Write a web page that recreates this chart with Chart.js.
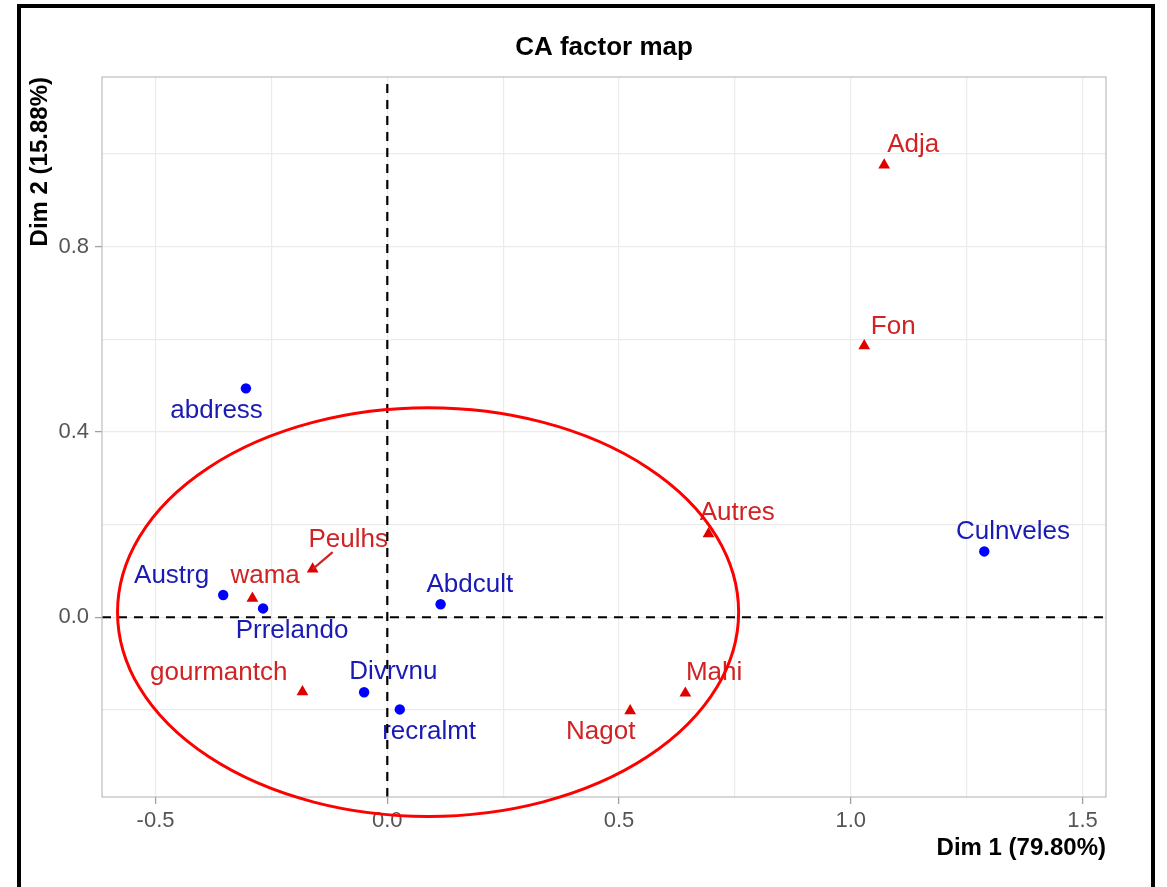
<!DOCTYPE html>
<html>
<head>
<meta charset="utf-8">
<title>CA factor map</title>
<script src="https://cdn.jsdelivr.net/npm/chart.js@4.4.1/dist/chart.umd.min.js"></script>
<style>
  html, body { margin: 0; padding: 0; background: #fff; overflow: hidden; }
  #wrap { position: relative; width: 1167px; height: 887px; }
  #c { position: absolute; left: 0; top: 0; }
  #frame { position: absolute; left: 17px; top: 4px; width: 1130px; height: 900px;
           border: 4px solid #000; pointer-events: none; }
</style>
</head>
<body>
<div id="wrap">
  <canvas id="c" width="1167" height="887"></canvas>
  <div id="frame"></div>
</div>
<script>
// Row categories (blue circles)
const rowNames = ['abdress', 'Austrg', 'Prrelando', 'Abdcult', 'Divrvnu', 'recralmt', 'Culnveles'];
const rowDim1  = [-0.305, -0.354, -0.268, 0.115, -0.050, 0.027, 1.288];
const rowDim2  = [0.494, 0.048, 0.019, 0.028, -0.162, -0.199, 0.142];

// Column categories (red triangles)
const colNames = ['Adja', 'Fon', 'Autres', 'Peulhs', 'wama', 'gourmantch', 'Mahi', 'Nagot'];
const colDim1  = [1.072, 1.029, 0.693, -0.161, -0.291, -0.183, 0.643, 0.524];
const colDim2  = [0.976, 0.586, 0.180, 0.104, 0.041, -0.161, -0.164, -0.202];

// Axis breaks
const dim1Labels = [-0.5, 0.0, 0.5, 1.0, 1.5];
const dim2Labels = [0.0, 0.4, 0.8];
const dim1Grid   = [-0.5, -0.25, 0.0, 0.25, 0.5, 0.75, 1.0, 1.25, 1.5];
const dim2Grid   = [-0.2, 0.0, 0.2, 0.4, 0.6, 0.8, 1.0];

// Titles
const plotTitle = 'CA factor map';
const dim1Title = 'Dim 1 (79.80%)';
const dim2Title = 'Dim 2 (15.88%)';

// Highlighted cluster, in data units
const cluster = { cx: 0.088, cy: 0.011, rx: 0.670, ry: 0.441 };

// Text label placement (pixel offsets from each point, repel-style)
const labelOffset = {
  abdress:    [-29.3, 22.4],
  Austrg:     [-51.6, -19.0],
  Prrelando:  [29.0, 22.7],
  Abdcult:    [29.3, -19.3],
  Divrvnu:    [29.3, -20.0],
  recralmt:   [29.3, 22.4],
  Culnveles:  [28.7, -20.0],
  Adja:       [29.0, -20.0],
  Fon:        [29.0, -19.3],
  Autres:     [28.8, -20.7],
  Peulhs:     [35.6, -29.0],
  wama:       [12.7, -22.4],
  gourmantch: [-83.7, -19.4],
  Mahi:       [28.8, -20.1],
  Nagot:      [-29.5, 21.3]
};
const leaderLines = { Peulhs: [20, -17] };

const FONT = '"Liberation Sans", Arial, Helvetica, sans-serif';
Chart.defaults.font.family = FONT;

const ROW_POINT = '#0000FF', ROW_TEXT = '#1A1AB4';
const COL_POINT = '#E00000', COL_TEXT = '#D02424';

const near = (a, b) => Math.abs(a - b) < 1e-9;
const isIn = (list, v) => list.some(t => near(t, v));

const overlay = {
  id: 'overlay',
  afterDatasetsDraw(chart) {
    const { ctx, chartArea: a, scales: { x, y } } = chart;
    ctx.save();

    // point labels
    ctx.font = '26px ' + FONT;
    ctx.textAlign = 'center';
    ctx.textBaseline = 'middle';
    chart.data.datasets.forEach((ds, di) => {
      const meta = chart.getDatasetMeta(di);
      meta.data.forEach((el, i) => {
        const name = ds.names[i];
        const off = labelOffset[name] || [0, -20];
        if (leaderLines[name]) {
          const l = leaderLines[name];
          ctx.strokeStyle = ds.textColor;
          ctx.lineWidth = 2.2;
          ctx.beginPath();
          ctx.moveTo(el.x, el.y);
          ctx.lineTo(el.x + l[0], el.y + l[1]);
          ctx.stroke();
        }
        ctx.fillStyle = ds.textColor;
        ctx.fillText(name, el.x + off[0], el.y + off[1]);
      });
    });

    // dashed reference lines through the origin
    ctx.strokeStyle = '#000';
    ctx.lineWidth = 2.2;
    ctx.setLineDash([9, 7]);
    const x0 = x.getPixelForValue(0), y0 = y.getPixelForValue(0);
    ctx.beginPath();
    ctx.moveTo(x0, a.bottom); ctx.lineTo(x0, a.top);
    ctx.moveTo(a.left, y0); ctx.lineTo(a.right, y0);
    ctx.stroke();
    ctx.setLineDash([]);

    // panel border
    ctx.strokeStyle = '#BDBDBD';
    ctx.lineWidth = 1.2;
    ctx.strokeRect(a.left, a.top, a.right - a.left, a.bottom - a.top);

    // cluster ellipse
    const cx = x.getPixelForValue(cluster.cx), cy = y.getPixelForValue(cluster.cy);
    const rx = x.getPixelForValue(cluster.cx + cluster.rx) - cx;
    const ry = cy - y.getPixelForValue(cluster.cy + cluster.ry);
    ctx.strokeStyle = '#FF0000';
    ctx.lineWidth = 3;
    ctx.beginPath();
    ctx.ellipse(cx, cy, rx, ry, 0, 0, Math.PI * 2);
    ctx.stroke();

    // plot title, centred over the panel
    ctx.fillStyle = '#000';
    ctx.font = 'bold 26px ' + FONT;
    ctx.textAlign = 'center';
    ctx.textBaseline = 'middle';
    ctx.fillText(plotTitle, (a.left + a.right) / 2, a.top - 29);

    ctx.restore();
  }
};

new Chart(document.getElementById('c'), {
  type: 'scatter',
  data: {
    datasets: [
      {
        label: 'rows',
        names: rowNames,
        textColor: ROW_TEXT,
        data: rowNames.map((n, i) => ({ x: rowDim1[i], y: rowDim2[i] })),
        pointStyle: 'circle',
        pointRadius: 5.2,
        backgroundColor: ROW_POINT,
        borderColor: ROW_POINT,
        borderWidth: 0
      },
      {
        label: 'columns',
        names: colNames,
        textColor: COL_TEXT,
        data: colNames.map((n, i) => ({ x: colDim1[i], y: colDim2[i] })),
        pointStyle: 'triangle',
        pointRadius: 6.8,
        backgroundColor: COL_POINT,
        borderColor: COL_POINT,
        borderWidth: 0
      }
    ]
  },
  options: {
    responsive: false,
    animation: false,
    devicePixelRatio: 1,
    events: [],
    layout: { padding: { left: 0, top: 77, right: 61, bottom: 0 } },
    plugins: {
      legend: { display: false },
      tooltip: { enabled: false },
      title: { display: false }
    },
    scales: {
      x: {
        type: 'linear',
        min: -0.6155,
        max: 1.5506,
        afterBuildTicks: s => { s.ticks = dim1Grid.map(v => ({ value: v })); },
        afterFit: s => { s.height = 90; },
        border: { display: false },
        grid: {
          color: '#EBEBEB',
          lineWidth: 1.2,
          drawTicks: true,
          tickLength: 7,
          tickWidth: 1.3,
          tickColor: c => (c.tick && isIn(dim1Labels, c.tick.value)) ? '#A0A0A0' : 'rgba(0,0,0,0)'
        },
        ticks: {
          autoSkip: false,
          maxRotation: 0,
          padding: 4,
          color: '#555555',
          font: { size: 22 },
          callback: v => isIn(dim1Labels, v) ? v.toFixed(1) : ''
        },
        title: {
          display: true,
          text: dim1Title,
          align: 'end',
          color: '#000',
          font: { size: 24, weight: 'bold' },
          padding: { top: 0, bottom: 24.6 }
        }
      },
      y: {
        type: 'linear',
        min: -0.388,
        max: 1.166,
        afterBuildTicks: s => { s.ticks = dim2Grid.map(v => ({ value: v })); },
        afterFit: s => { s.width = 102; },
        border: { display: false },
        grid: {
          color: '#EBEBEB',
          lineWidth: 1.2,
          drawTicks: true,
          tickLength: 7,
          tickWidth: 1.3,
          tickColor: c => (c.tick && isIn(dim2Labels, c.tick.value)) ? '#A0A0A0' : 'rgba(0,0,0,0)'
        },
        ticks: {
          autoSkip: false,
          padding: 6,
          color: '#555555',
          font: { size: 22 },
          callback: v => isIn(dim2Labels, v) ? v.toFixed(1) : ''
        },
        title: {
          display: true,
          text: dim2Title,
          align: 'end',
          color: '#000',
          font: { size: 24, weight: 'bold' },
          padding: { top: 26, bottom: 0 }
        }
      }
    }
  },
  plugins: [overlay]
});
</script>
</body>
</html>
